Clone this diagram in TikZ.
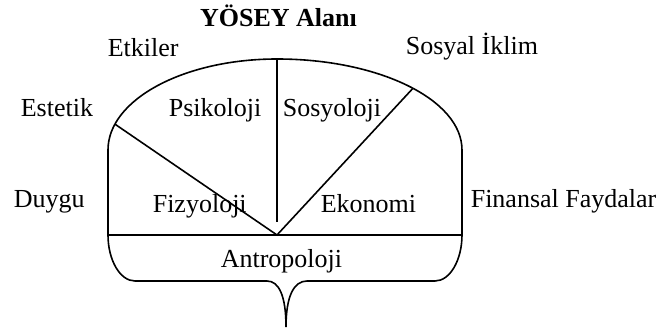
\documentclass[tikz,border=0pt]{standalone}
\usepackage{fontspec}
\setmainfont{Liberation Serif}
\usetikzlibrary{positioning,calc}

\begin{document}
\begin{tikzpicture}[x=0.5pt,y=0.5pt,line width=0.8pt,
		every node/.style={font=\fontsize{13}{15}\selectfont, inner sep=0pt}]
				\useasboundingbox (0,0) rectangle (661,332);
				\coordinate (solust) at (108,182);
				\coordinate (sagust) at (462,182);
				\coordinate (solalt) at (108,97);
				\coordinate (sagalt) at (462,97);
				\coordinate (merkez) at (277,182);
				\coordinate (tepe) at (277,273);
				\coordinate (orta) at (277,110);
				\coordinate (dip) at (277,97);
				\coordinate (uc) at (286,5);
				\coordinate (solkesim) at ($(merkez)+(163.5:169 and 91)$);
				\coordinate (sagkesim) at ($(merkez)+(42.7:185 and 91)$);
				
				\draw (solalt) -- (solust) arc[start angle=180, end angle=90, x radius=169, y radius=91]
					arc[start angle=90, end angle=0, x radius=185, y radius=91] -- (sagalt)
					.. controls (462,72) and (450,51) .. (435,51) -- (307,51)
					.. controls (294,51) and (286,36) .. (uc)
					.. controls (286,36) and (279,51) .. (267,51) -- (135,51)
					.. controls (120,51) and (108,72) .. (solalt);
				\draw (solalt) -- (sagalt);
				\draw (tepe) -- (orta);
				\draw (solkesim) -- (dip) -- (sagkesim);
				
				\node[anchor=base, font=\fontsize{13}{15}\selectfont\bfseries] (baslik) at (278.5,305) {YÖSEY Alanı};
				\node[anchor=base west] (etkiler) at (107,275) {Etkiler};
				\node[anchor=base west] (iklim) at (405,277) {Sosyal İklim};
				\node[anchor=base west] (estetik) at (20,215) {Estetik};
				\node[anchor=base west] (psiko) at (168,215) {Psikoloji};
				\node[anchor=base west] (sosyo) at (282,215) {Sosyoloji};
				\node[anchor=base west] (duygu) at (13,124) {Duygu};
				\node[anchor=base west] (fizyo) at (152,119) {Fizyoloji};
				\node[anchor=base west] (ekonomi) at (320,119) {Ekonomi};
				\node[anchor=base west] (finans) at (470,124) {Finansal Faydalar};
				\node[anchor=base] (antropo) at (281.5,64) {Antropoloji};
			\end{tikzpicture}
\end{document}
